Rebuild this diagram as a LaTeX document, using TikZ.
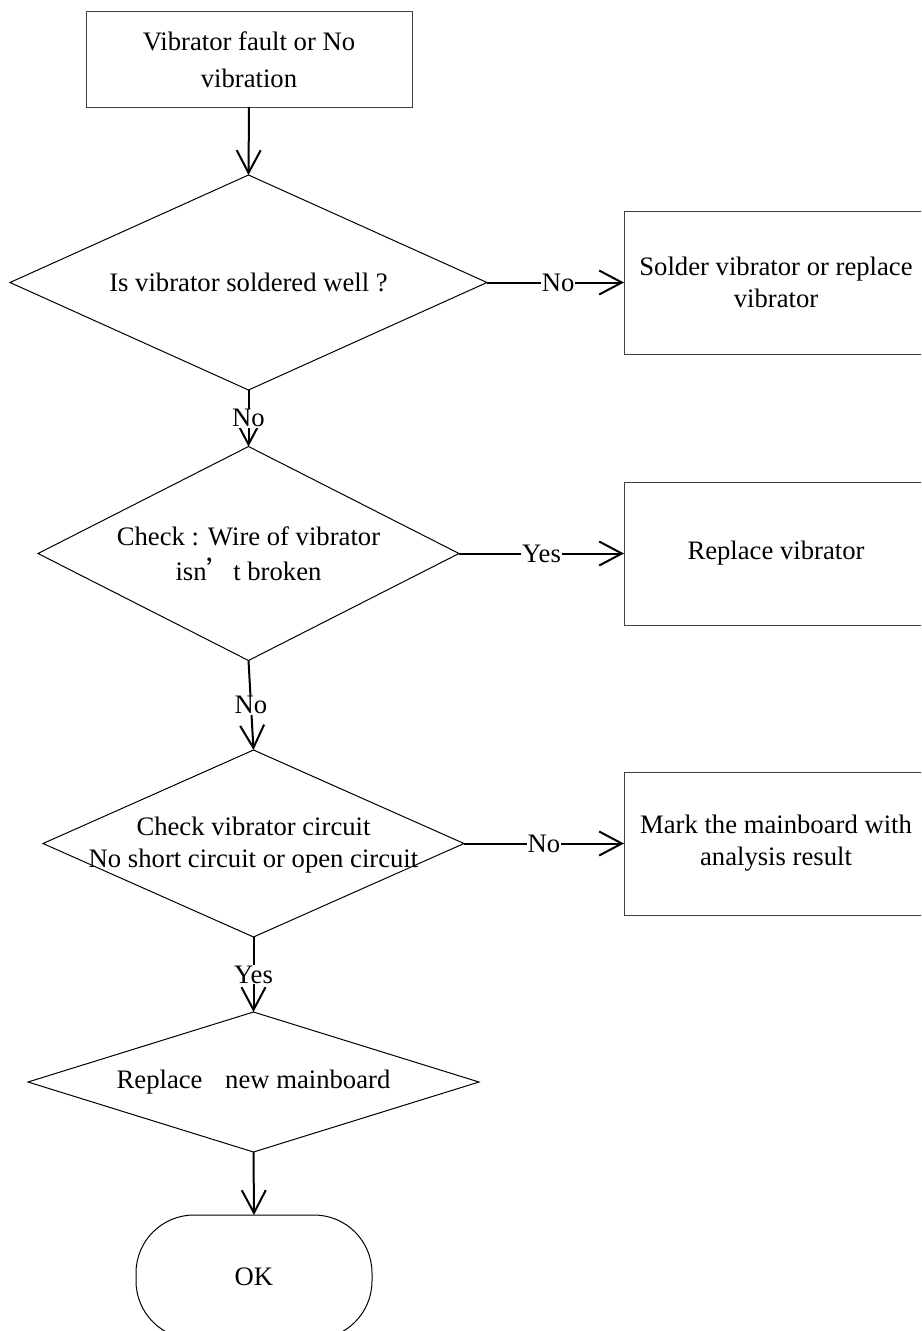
\documentclass[tikz,border=0pt]{standalone}
\usepackage{fontspec}
\setmainfont{Liberation Serif}
\newfontfamily\cjk{Noto Sans CJK SC}
\usetikzlibrary{shapes.geometric,arrows.meta}
\tikzset{
  base/.style={font=\fontsize{20}{24}\selectfont, inner sep=0pt, outer sep=0pt, align=center},
  procbox/.style={base, draw=black!75, line width=0.75pt, rectangle, minimum width=228pt, minimum height=107.25pt},
  decision/.style={base, draw=black, line width=0.75pt, diamond},
  terminal/.style={base, draw=black, line width=0.75pt, rectangle, rounded corners=43.5pt, minimum width=177pt, minimum height=93pt},
  flow/.style={line width=1.5pt, -{Straight Barb[length=17pt,width=18pt,line width=1.5pt]}},
  lbl/.style={font=\fontsize{20}{24}\selectfont, fill=white, inner sep=0.5pt}
}
\begin{document}
\begin{tikzpicture}[x=0.75pt,y=-0.75pt]
\useasboundingbox (0,0) rectangle (921,1331);
\clip (0,0) rectangle (921,1331);
\fill[white] (0,0) rectangle (921,1331);
% process boxes
\node[procbox, minimum width=244.5pt, minimum height=71.25pt, font=\fontsize{20}{28}\selectfont] (start) at (249,59.5) {Vibrator fault or No\\vibration};
\node[procbox] (b2) at (776,282.5) {Solder vibrator or replace\\vibrator};
\node[procbox] (b3) at (776,553.5) {Replace vibrator};
\node[procbox] (b4) at (776,843.5) {Mark the mainboard with\\analysis result};
% decisions
\node[decision, minimum width=357.75pt, minimum height=161.25pt] (d1) at (248.5,282.5) {};
\node[base] at (d1.center) {Is vibrator soldered well ?};
\node[decision, minimum width=315.75pt, minimum height=160.5pt] (d2) at (248.5,553.5) {};
\node[base, font=\fontsize{20}{26}\selectfont] at (d2.center) {Check : Wire of vibrator\\isn{\cjk ’}t broken};
\node[decision, minimum width=315.75pt, minimum height=140.25pt] (d3) at (253.5,843.5) {};
\node[base] at ([yshift=-1pt]d3.center) {Check vibrator circuit\\No short circuit or open circuit};
\node[decision, minimum width=338.25pt, minimum height=105pt] (d4) at (253.5,1082) {};
\node[base] at (d4.center) {Replace\hspace{12pt} new mainboard};
% terminal
\node[terminal] (ok) at (254,1277) {OK};
% connectors
\draw[flow] (start.south) -- (d1.north);
\draw[flow] (d1.east) -- (d1.east -| b2.west) node[lbl, pos=0.52] {No};
\draw[flow] (d1.south) -- (d2.north) node[lbl, midway] {No};
\draw[flow] (d2.east) -- (d2.east -| b3.west) node[lbl, midway] {Yes};
\draw[flow] (d2.south) -- (d3.north) node[lbl, midway] {No};
\draw[flow] (d3.east) -- (d3.east -| b4.west) node[lbl, midway] {No};
\draw[flow] (d3.south) -- (d4.north) node[lbl, midway] {Yes};
\draw[flow] (d4.south) -- (ok.north);
\end{tikzpicture}
\end{document}
